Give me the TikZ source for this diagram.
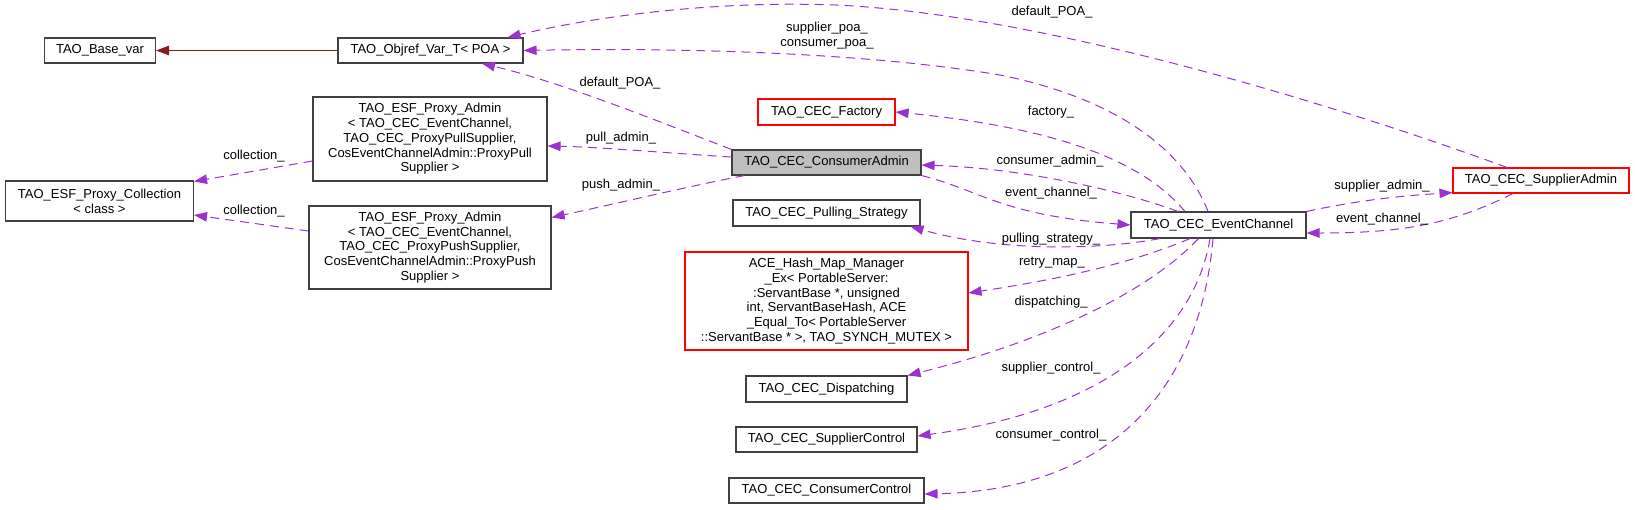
\documentclass[tikz,border=0pt]{standalone}
\usepackage{fontspec}
\setmainfont{Liberation Sans}
\usepackage{tikz}
\usetikzlibrary{arrows.meta}

\definecolor{depcol}{HTML}{9A32CD}
\definecolor{inhcol}{HTML}{8B1A1A}
\definecolor{boxgray}{HTML}{BFBFBF}

\tikzset{
  cls/.style={draw=black!75, line width=1.1pt, fill=white, align=center, inner sep=0pt, minimum height=25pt},
  hot/.style={cls, draw=red},
  dep/.style={->, depcol, line width=1pt, dash pattern=on 9pt off 6pt},
  inh/.style={->, inhcol, line width=1pt}
}

\begin{document}
\begin{tikzpicture}[x=1pt,y=-1pt,>={Triangle[length=13pt,width=9.5pt]}]
			\tikzstyle{every node}=[font=\fontsize{13}{14.7}\selectfont, inner sep=0pt]
			\useasboundingbox (0,0) rectangle (1635,509);

			\node[cls, minimum width=111pt] (BV) at (100,50.5) {TAO\_Base\_var};
			\node[cls, minimum width=185pt] (OV) at (430.5,50.5) {TAO\_Objref\_Var\_T< POA >};
			\node[cls, minimum width=234pt, minimum height=84pt] (PLA) at (430,139) {TAO\_ESF\_Proxy\_Admin\\< TAO\_CEC\_EventChannel,\\TAO\_CEC\_ProxyPullSupplier,\\CosEventChannelAdmin::ProxyPull\\Supplier >};
			\node[cls, minimum width=188pt, minimum height=40pt] (PC) at (99.5,201) {TAO\_ESF\_Proxy\_Collection\\< class >};
			\node[cls, minimum width=242pt, minimum height=83pt] (PSA) at (430,247.5) {TAO\_ESF\_Proxy\_Admin\\< TAO\_CEC\_EventChannel,\\TAO\_CEC\_ProxyPushSupplier,\\CosEventChannelAdmin::ProxyPush\\Supplier >};
			\node[hot, minimum width=137pt, minimum height=26pt] (CF) at (826.5,112) {TAO\_CEC\_Factory};
			\node[cls, fill=boxgray, minimum width=189pt] (CA) at (826.5,162.5) {TAO\_CEC\_ConsumerAdmin};
			\node[cls, minimum width=187pt, minimum height=26pt] (PS) at (826.5,213) {TAO\_CEC\_Pulling\_Strategy};
			\node[hot, minimum width=283pt, minimum height=98pt] (HM) at (826.5,301) {ACE\_Hash\_Map\_Manager\\\_Ex< PortableServer:\\:ServantBase *, unsigned\\int, ServantBaseHash, ACE\\\_Equal\_To< PortableServer\\::ServantBase * >, TAO\_SYNCH\_MUTEX >};
			\node[cls, minimum width=161pt, minimum height=26pt] (CD) at (826.5,389) {TAO\_CEC\_Dispatching};
			\node[cls, minimum width=181pt] (SC) at (826.5,439.5) {TAO\_CEC\_SupplierControl};
			\node[cls, minimum width=195pt] (CC) at (826.5,490.5) {TAO\_CEC\_ConsumerControl};
			\node[cls, minimum width=175pt, minimum height=26pt] (EC) at (1218.5,225) {TAO\_CEC\_EventChannel};
			\node[hot, minimum width=176pt] (SA) at (1541,180.5) {TAO\_CEC\_SupplierAdmin};

			% inheritance
			\draw[inh] (OV.west) -- (BV.east);

			% usage
			\draw[dep] ([xshift=-34pt]SA.north) .. controls (1350,110) and (1050,15) .. (836,5) .. controls (700,0) and (580,20) .. ([xshift=-16pt]OV.north east);
			\draw[dep] ([xshift=-10.5pt]EC.north) .. controls (1180,140) and (1100,95) .. (1000,75) .. controls (850,50) and (650,48) .. (OV.east);
			\draw[dep] (CA.north west) .. controls (650,118) and (560,82) .. ([xshift=51.5pt]OV.south);
			\draw[dep] ([yshift=5.5pt]CA.west) .. controls (680,154) and (600,147) .. ([yshift=-7pt]PLA.east);
			\draw[dep] ([xshift=13pt]CA.south west) .. controls (690,186) and (610,205) .. ([yshift=-12pt]PSA.north east);
			\draw[dep] ([yshift=-22pt]PLA.west) -- ([yshift=-1pt]PC.north east);
			\draw[dep] ([yshift=16.5pt]PSA.west) -- ([yshift=-14pt]PC.east);
			\draw[dep] ([xshift=-33.5pt]EC.north) .. controls (1150,170) and (1080,130) .. (CF.east);
			\draw[dep] ([xshift=-40.5pt]EC.north) .. controls (1120,190) and (1020,168) .. ([yshift=-2.5pt]CA.east);
			\draw[dep] (CA.south east) .. controls (980,190) and (1000,215) .. (EC.west);
			\draw[dep] ([xshift=-58.5pt]EC.south) .. controls (1100,250) and (1000,252) .. ([xshift=-10pt]PS.south east);
			\draw[dep] ([xshift=-28.5pt]EC.south) .. controls (1120,268) and (1040,282) .. ([yshift=8pt]HM.east);
			\draw[dep] ([xshift=-20pt]EC.south) .. controls (1150,290) and (1050,340) .. (CD.north east);
			\draw[dep] ([xshift=-8.5pt]EC.south) .. controls (1195,330) and (1110,410) .. ([yshift=3.5pt]SC.east);
			\draw[dep] ([xshift=-5.5pt]EC.south) .. controls (1200,390) and (1110,490) .. ([yshift=-3.5pt]CC.east);
			\draw[dep] (EC.north east) .. controls (1360,200) and (1400,196) .. ([yshift=1pt]SA.south west);
			\draw[dep] ([xshift=-28pt]SA.south) .. controls (1450,225) and (1400,233) .. ([yshift=-8pt]EC.east);

			% labels
			\node (lDPS) at (1052,12) {default\_POA\_};
			\node[align=center] (lPOA) at (827,35.5) {supplier\_poa\_\\consumer\_poa\_};
			\node (lDPC) at (620,83) {default\_POA\_};
			\node (lPL) at (621,138) {pull\_admin\_};
			\node (lPS) at (621,185) {push\_admin\_};
			\node (lCL1) at (254,156) {collection\_};
			\node (lCL2) at (254,211) {collection\_};
			\node (lCF) at (1051,112) {factory\_};
			\node (lCA) at (1050,161) {consumer\_admin\_};
			\node (lEC1) at (1051,193) {event\_channel\_};
			\node (lPST) at (1051,239) {pulling\_strategy\_};
			\node (lRM) at (1052,263) {retry\_map\_};
			\node (lDS) at (1051,302) {dispatching\_};
			\node (lSC) at (1051,368) {supplier\_control\_};
			\node (lCC) at (1051,435) {consumer\_control\_};
			\node (lSA) at (1382,186) {supplier\_admin\_};
			\node (lEC2) at (1382,219) {event\_channel\_};
		\end{tikzpicture}
\end{document}
